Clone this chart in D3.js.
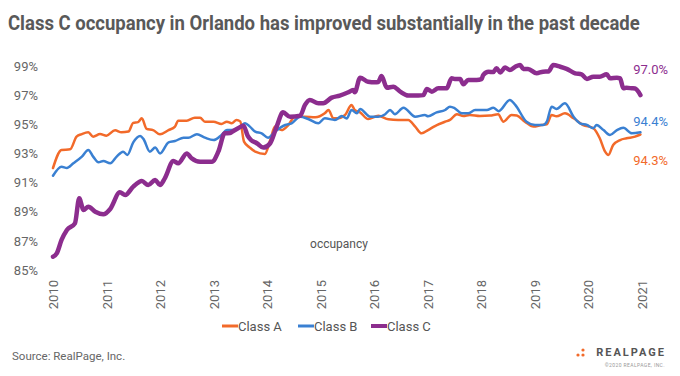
<!DOCTYPE html>
<html><head><meta charset="utf-8">
<script src="https://cdn.jsdelivr.net/npm/d3@7"></script>
<style>body{margin:0;background:#fff;} text{font-family:Roboto,"Noto Sans",sans-serif;}</style>
</head><body><svg id="c" width="680" height="376"></svg>
<script>
const title = "Class C occupancy in Orlando has improved substantially in the past decade";
const yTicks = [85, 87, 89, 91, 93, 95, 97, 99];
const xTicks = [2010, 2011, 2012, 2013, 2014, 2015, 2016, 2017, 2018, 2019, 2020, 2021];
const seriesNames = ["Class A", "Class B", "Class C"];
const endLabels = ["94.3%", "94.4%", "97.0%"];

const classA = [[2010.00,92.0],[2010.16,93.24],[2010.32,93.28],[2010.44,94.15],[2010.54,94.33],[2010.66,94.45],[2010.75,94.15],[2010.88,94.33],[2011.00,94.22],[2011.16,94.59],[2011.28,94.45],[2011.41,94.5],[2011.50,95.1],[2011.59,95.15],[2011.66,95.41],[2011.75,94.68],[2011.87,94.6],[2012.00,94.31],[2012.16,94.6],[2012.28,94.84],[2012.34,95.25],[2012.50,95.25],[2012.65,95.45],[2012.75,95.45],[2012.84,95.18],[2013.00,95.18],[2013.15,95.02],[2013.25,95.18],[2013.34,95.07],[2013.43,95.3],[2013.50,95.2],[2013.57,93.81],[2013.68,93.4],[2013.78,93.12],[2013.96,92.96],[2014.06,93.92],[2014.15,94.84],[2014.27,94.6],[2014.40,94.95],[2014.52,95.52],[2014.71,95.52],[2014.90,95.48],[2015.08,95.75],[2015.15,95.98],[2015.24,95.41],[2015.33,95.41],[2015.46,95.64],[2015.58,96.33],[2015.64,95.98],[2015.74,95.82],[2015.89,95.36],[2016.08,95.59],[2016.27,95.34],[2016.45,95.3],[2016.64,95.3],[2016.77,94.84],[2016.89,94.38],[2017.01,94.6],[2017.14,94.88],[2017.33,95.18],[2017.42,95.3],[2017.55,95.69],[2017.67,95.57],[2017.79,95.64],[2017.98,95.57],[2018.17,95.6],[2018.32,95.69],[2018.42,95.18],[2018.57,95.64],[2018.67,95.6],[2018.82,95.18],[2018.98,94.84],[2019.13,94.95],[2019.23,95.0],[2019.32,95.64],[2019.41,95.55],[2019.57,95.75],[2019.73,95.41],[2019.91,94.95],[2020.10,94.73],[2020.22,94.04],[2020.32,93.12],[2020.38,92.89],[2020.47,93.58],[2020.60,93.92],[2020.72,94.04],[2020.88,94.15],[2020.98,94.3]];

const classB = [[2010.00,91.47],[2010.16,92.09],[2010.26,92.0],[2010.38,92.32],[2010.54,92.78],[2010.66,93.24],[2010.75,92.78],[2010.85,92.39],[2010.94,92.48],[2011.07,92.32],[2011.19,92.78],[2011.31,93.12],[2011.39,92.9],[2011.50,93.76],[2011.63,94.2],[2011.69,94.0],[2011.81,93.12],[2011.91,93.4],[2012.00,93.0],[2012.16,93.76],[2012.28,93.85],[2012.44,94.08],[2012.53,94.08],[2012.69,94.31],[2012.84,94.08],[2013.00,93.92],[2013.15,94.27],[2013.25,94.6],[2013.37,94.6],[2013.50,94.84],[2013.59,95.07],[2013.68,94.84],[2013.78,94.5],[2013.90,94.38],[2014.02,94.08],[2014.15,94.5],[2014.34,94.95],[2014.46,95.07],[2014.62,95.52],[2014.77,95.36],[2014.96,95.07],[2015.08,95.41],[2015.27,95.3],[2015.40,95.57],[2015.49,95.4],[2015.58,95.98],[2015.68,95.75],[2015.74,96.05],[2015.93,95.52],[2016.08,95.52],[2016.21,95.69],[2016.30,95.98],[2016.39,95.69],[2016.55,96.14],[2016.77,95.52],[2016.95,95.64],[2017.01,95.55],[2017.17,95.82],[2017.33,95.98],[2017.42,96.21],[2017.51,96.1],[2017.64,95.75],[2017.76,95.75],[2017.89,95.98],[2018.11,95.98],[2018.23,96.14],[2018.33,95.9],[2018.54,96.67],[2018.64,96.33],[2018.85,95.18],[2019.01,94.95],[2019.16,94.95],[2019.23,95.18],[2019.32,96.21],[2019.41,96.05],[2019.57,96.44],[2019.73,95.52],[2019.85,95.07],[2019.98,94.95],[2020.10,94.73],[2020.16,94.95],[2020.29,94.6],[2020.41,94.27],[2020.54,94.6],[2020.66,94.76],[2020.82,94.38],[2020.98,94.45]];

const classC = [[2010.00,85.91],[2010.07,86.14],[2010.16,87.06],[2010.26,87.75],[2010.41,88.2],[2010.49,89.92],[2010.57,89.12],[2010.66,89.34],[2010.79,89.0],[2010.94,88.82],[2011.07,89.19],[2011.25,90.33],[2011.35,90.15],[2011.50,90.72],[2011.66,91.11],[2011.78,90.83],[2011.91,91.18],[2012.00,90.83],[2012.09,91.29],[2012.25,92.48],[2012.34,92.32],[2012.50,93.0],[2012.59,92.67],[2012.75,92.43],[2012.97,92.43],[2013.09,93.12],[2013.21,94.38],[2013.31,94.4],[2013.37,94.54],[2013.46,94.73],[2013.56,94.9],[2013.64,94.2],[2013.70,93.92],[2013.81,93.7],[2013.93,93.4],[2014.06,93.7],[2014.18,94.84],[2014.30,95.82],[2014.43,95.52],[2014.62,95.59],[2014.71,96.33],[2014.80,96.67],[2014.96,96.44],[2015.05,96.44],[2015.21,96.83],[2015.36,96.97],[2015.52,97.2],[2015.61,97.35],[2015.64,97.2],[2015.74,98.2],[2015.89,97.92],[2016.02,97.88],[2016.08,97.9],[2016.14,98.31],[2016.24,97.51],[2016.36,97.58],[2016.49,97.24],[2016.64,96.97],[2016.83,96.97],[2016.92,97.0],[2016.99,97.42],[2017.08,97.24],[2017.20,97.47],[2017.36,97.47],[2017.45,98.16],[2017.51,98.11],[2017.61,98.1],[2017.67,97.74],[2017.76,98.04],[2017.92,98.04],[2018.01,98.1],[2018.04,98.38],[2018.14,98.61],[2018.23,98.58],[2018.29,98.84],[2018.36,98.56],[2018.45,98.89],[2018.54,98.73],[2018.64,98.95],[2018.73,99.07],[2018.79,98.8],[2018.88,98.8],[2019.04,98.5],[2019.16,98.61],[2019.26,98.62],[2019.35,99.07],[2019.48,98.95],[2019.60,98.8],[2019.76,98.5],[2019.88,98.43],[2019.98,98.11],[2020.10,98.27],[2020.22,98.27],[2020.35,98.43],[2020.41,98.16],[2020.54,98.2],[2020.60,98.15],[2020.66,97.47],[2020.72,97.5],[2020.82,97.47],[2020.88,97.45],[2020.98,97.0]];

const colors = ["#F26A2A", "#3A80D2", "#8C2D8E"];
const widths = [2.5, 2.5, 4.5];
const allSeries = [classA, classB, classC];

const svg = d3.select("#c");
const x = d3.scaleLinear().domain([2010, 2021]).range([53, 641.5]);
const y = d3.scaleLinear().domain([85, 99]).range([270, 66]);

// title, horizontally condensed to fit like the reference
const tg = svg.append("g").attr("transform", "translate(8,30)");
const tt = tg.append("text").attr("x", 0).attr("y", 0).attr("font-size", 20).attr("font-weight", 700)
  .attr("fill", "#595959").text(title);
const natural = tt.node().getComputedTextLength();
tg.attr("transform", `translate(8,30) scale(${Math.min(1, 632 / natural)},1)`);

// y axis
const yAxis = svg.append("g").attr("transform", "translate(38,0)")
  .call(d3.axisLeft(y).tickValues(yTicks).tickSize(0).tickPadding(0).tickFormat(d => d + "%"));
yAxis.select(".domain").remove();
yAxis.selectAll("text").attr("font-size", 13).attr("fill", "#666").attr("font-family", "Roboto");

// x axis
const xAxis = svg.append("g").attr("transform", "translate(0,280)")
  .call(d3.axisBottom(x).tickValues(xTicks).tickSize(0).tickFormat(d3.format("d")));
xAxis.select(".domain").remove();
xAxis.selectAll("text").attr("font-size", 13).attr("fill", "#666").attr("font-family", "Roboto")
  .attr("transform", "rotate(-90)").attr("text-anchor", "end").attr("x", 0).attr("y", 0).attr("dy", "0.35em");

svg.append("text").attr("x", 339).attr("y", 248).attr("text-anchor", "middle").attr("font-size", 12)
  .attr("fill", "#555").text("occupancy");

const line = d3.line().x(d => x(d[0])).y(d => y(d[1])).curve(d3.curveMonotoneX);
allSeries.forEach((s, i) => {
  svg.append("path").datum(s).attr("d", line).attr("fill", "none").attr("stroke", colors[i])
    .attr("stroke-width", widths[i]).attr("stroke-linejoin", "round").attr("stroke-linecap", "round");
});

// end labels
const endY = [160, 121, 69];
endLabels.forEach((t, i) => {
  svg.append("text").attr("x", 668).attr("y", endY[i]).attr("dy", "0.35em").attr("text-anchor", "end")
    .attr("font-size", 13).attr("fill", colors[i]).text(t);
});

// legend
const legX = [222, 298, 371];
seriesNames.forEach((n, i) => {
  svg.append("line").attr("x1", legX[i]).attr("x2", legX[i] + 16).attr("y1", 326).attr("y2", 326)
    .attr("stroke", colors[i]).attr("stroke-width", i === 2 ? 4 : 3);
  svg.append("text").attr("x", legX[i] + 16).attr("y", 326).attr("dy", "0.35em").attr("font-size", 13)
    .attr("fill", "#555").text(n);
});

svg.append("text").attr("x", 12).attr("y", 356).attr("dy", "0.35em").attr("font-size", 11.5)
  .attr("fill", "#666").text("Source: RealPage, Inc.");

// logo
svg.append("circle").attr("cx", 578).attr("cy", 355).attr("r", 1.6).attr("fill", "#F26A2A");
svg.append("circle").attr("cx", 583).attr("cy", 350).attr("r", 1.6).attr("fill", "#F26A2A");
svg.append("circle").attr("cx", 583).attr("cy", 355).attr("r", 1.6).attr("fill", "#F26A2A");
svg.append("text").attr("x", 666).attr("y", 356).attr("text-anchor", "end").attr("font-size", 11)
  .attr("font-weight", 700).attr("letter-spacing", 2).attr("fill", "#555").text("REALPAGE");
svg.append("text").attr("x", 665).attr("y", 367).attr("text-anchor", "end").attr("font-size", 5)
  .attr("letter-spacing", 0.4).attr("fill", "#999").text("©2020 REALPAGE, INC.");
</script></body></html>
